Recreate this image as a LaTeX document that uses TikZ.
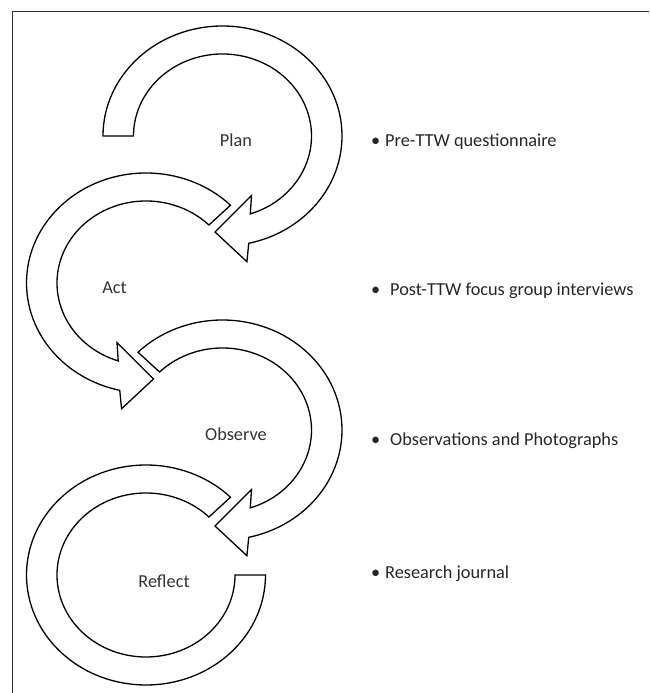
\documentclass[tikz,border=0pt]{standalone}
\usepackage{fontspec}
\setmainfont{Carlito}
\usepackage{tikz}

\begin{document}
\begin{tikzpicture}[x=1pt,y=1pt,
    band/.style={draw=black, line width=1.3pt, fill=white},
    word/.style={inner sep=0pt, anchor=base, text=black!80, font=\fontsize{18.3}{22}\selectfont},
    item/.style={inner sep=0pt, anchor=base west, text=black!85, font=\fontsize{18.3}{22}\selectfont}]
            \useasboundingbox (0,0) rectangle (649,693);
            % frame
            \draw[black!80, line width=0.9pt] (12,0) -- (12,682) -- (649,682);

            % Plan
            \begin{scope}[shift={(222.5,557)}]
              \draw[band] (180:119.5 and 110) arc[start angle=180, end angle=-77.3, x radius=119.5, y radius=110]
                -- (24.4,-125.7) -- (-7.5,-96) -- (29,-59.5)
                -- (-71.8:89 and 82) arc[start angle=-71.8, end angle=180, x radius=89, y radius=82] -- cycle;
            \end{scope}

            % Act
            \begin{scope}[shift={(146,410)}, xscale=-1]
              \draw[band] (135:119.5 and 110) arc[start angle=135, end angle=-77.3, x radius=119.5, y radius=110]
                -- (24.4,-125.7) -- (-7.5,-96) -- (29,-59.5)
                -- (-71.8:89 and 82) arc[start angle=-71.8, end angle=135, x radius=89, y radius=82] -- cycle;
            \end{scope}

            % Observe
            \begin{scope}[shift={(222.5,263)}]
              \draw[band] (135:119.5 and 110) arc[start angle=135, end angle=-77.3, x radius=119.5, y radius=110]
                -- (24.4,-125.7) -- (-7.5,-96) -- (29,-59.5)
                -- (-71.8:89 and 82) arc[start angle=-71.8, end angle=135, x radius=89, y radius=82] -- cycle;
            \end{scope}

            % Reflect
            \begin{scope}[shift={(146,118)}]
              \draw[band] (45:119.5 and 110) arc[start angle=45, end angle=360, x radius=119.5, y radius=110]
                -- (0:89 and 82) arc[start angle=360, end angle=45, x radius=89, y radius=82] -- cycle;
            \end{scope}

            % stages
            \node[word] (plan) at (236,546.3) {Plan};
            \node[word] (act) at (114.5,399) {Act};
            \node[word] (observe) at (236,252) {Observe};
            \node[word] (reflect) at (164,105.3) {Reflect};

            % data sources
            \node[item] (pre) at (371,546) {\makebox[14pt][l]{\textbullet}Pre-TTW questionnaire};
            \node[item] (post) at (371,397) {\makebox[19pt][l]{\textbullet}Post-TTW focus group interviews};
            \node[item] (obs) at (371,247) {\makebox[19pt][l]{\textbullet}Observations and Photographs};
            \node[item] (journal) at (371,114) {\makebox[14pt][l]{\textbullet}Research journal};
          \end{tikzpicture}
\end{document}
